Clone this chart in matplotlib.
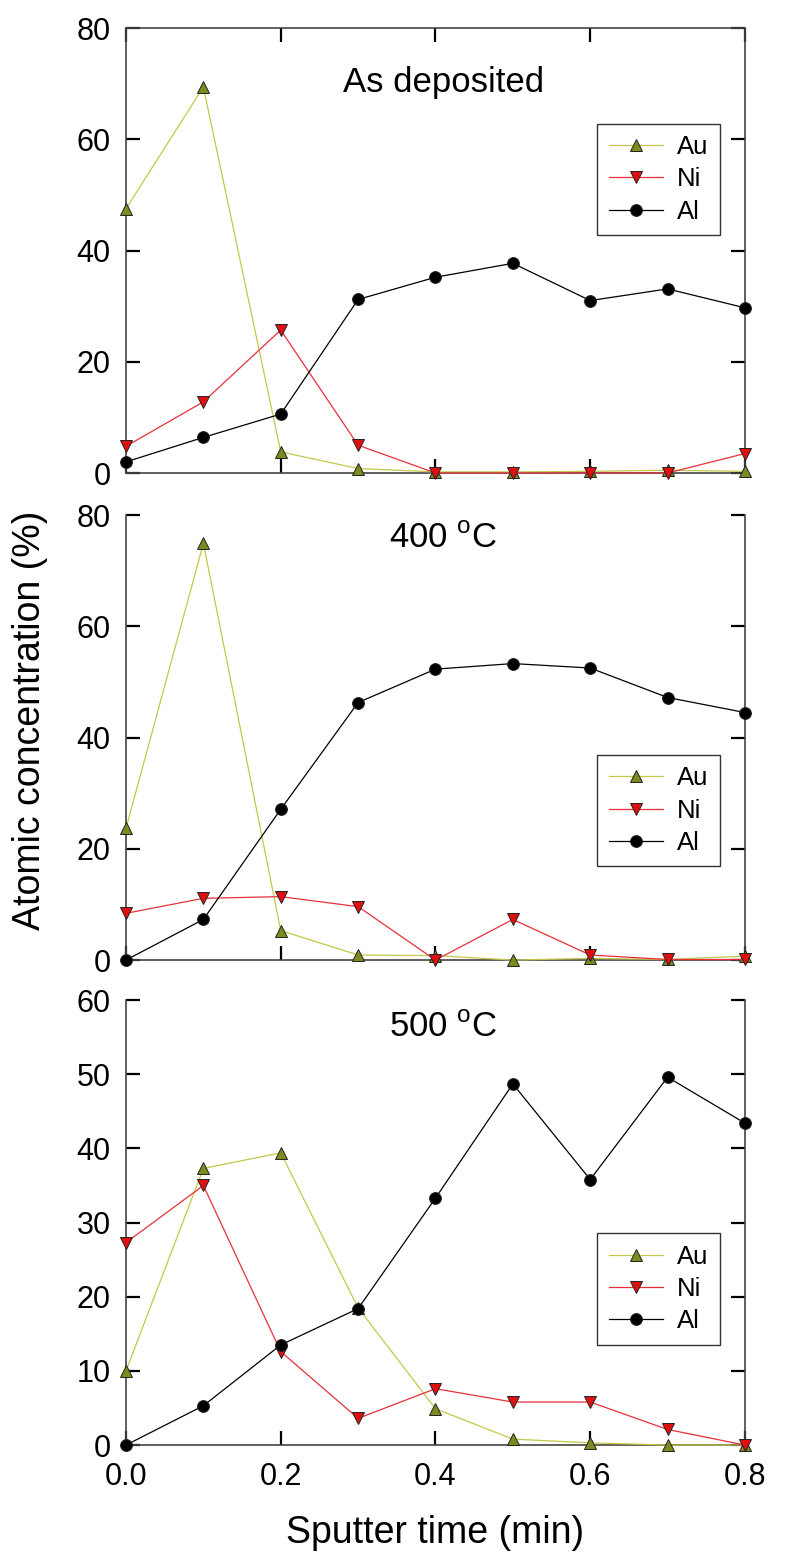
import matplotlib
matplotlib.use("Agg")
from matplotlib import pyplot as plt

plt.rcParams["font.family"] = ["Liberation Sans", "DejaVu Sans"]
plt.rcParams["mathtext.fontset"] = "custom"
plt.rcParams["mathtext.rm"] = "Liberation Sans"

# sputter time (min)
time = [0.0, 0.1, 0.2, 0.3, 0.4, 0.5, 0.6, 0.7, 0.8]

# as deposited
au_dep = [47.5, 69.4, 3.8, 0.8, 0.2, 0.2, 0.3, 0.5, 0.3]
ni_dep = [4.8, 12.8, 25.7, 5.0, 0.0, 0.0, 0.0, 0.0, 3.5]
al_dep = [2.0, 6.4, 10.6, 31.2, 35.2, 37.7, 31.0, 33.1, 29.7]

# 400 C
au_400 = [23.7, 74.9, 5.3, 0.9, 0.8, 0.0, 0.3, 0.1, 0.7]
ni_400 = [8.4, 11.1, 11.4, 9.6, 0.0, 7.3, 0.9, 0.1, 0.1]
al_400 = [0.0, 7.3, 27.1, 46.3, 52.3, 53.3, 52.5, 47.2, 44.5]

# 500 C
au_500 = [10.0, 37.3, 39.4, 18.5, 4.9, 0.8, 0.3, 0.0, 0.0]
ni_500 = [27.3, 35.0, 12.6, 3.6, 7.6, 5.8, 5.8, 2.1, 0.0]
al_500 = [0.0, 5.3, 13.5, 18.4, 33.3, 48.7, 35.8, 49.6, 43.4]

PANELS = [
    ("As deposited", au_dep, ni_dep, al_dep, 80, 20, 0.785),
    ("400 $^{\\rm o}$C", au_400, ni_400, al_400, 80, 20, 0.461),
    ("500 $^{\\rm o}$C", au_500, ni_500, al_500, 60, 10, 0.476),
]
BOTTOMS = [0.6962, 0.3834, 0.0719]
TITLE_Y = [0.877, 0.948, 0.939]


def plot_panel(ax, title, au, ni, al, ymax, ystep, legend_top, title_y):
    """
    draw the three element profiles of one anneal state
    """
    kw = dict(lw=0.9, markersize=8.5, markeredgewidth=0.7, markeredgecolor="#222222", clip_on=False, zorder=3)
    ax.plot(time, au, color="#c4c84a", marker="^", markerfacecolor="#7d8a1e", label="Au", **kw)
    ax.plot(time, ni, color="#e8303a", marker="v", markerfacecolor="#e01010", label="Ni", **kw)
    ax.plot(time, al, color="black", marker="o", markerfacecolor="black", label="Al", **kw)

    ax.set_xlim(0, 0.8)
    ax.set_ylim(0, ymax)
    ax.set_xticks([0.0, 0.2, 0.4, 0.6, 0.8])
    ax.set_yticks(range(0, ymax + 1, ystep))
    ax.tick_params(axis="both", direction="in", length=10, width=1.6, labelsize=22, color="black")
    ax.tick_params(axis="y", right=True, pad=11)
    ax.tick_params(axis="x", pad=12)
    for side in ["left", "right", "bottom", "top"]:
        ax.spines[side].set_color("#444444")
        ax.spines[side].set_linewidth(1.2)

    ax.text(0.513, title_y, title, transform=ax.transAxes, ha="center", va="center", fontsize=25)
    leg = ax.legend(loc="upper left", bbox_to_anchor=(0.761, legend_top), fontsize=18.5, frameon=True,
                    fancybox=False, edgecolor="black", handlelength=2.1, labelspacing=0.32,
                    borderpad=0.45, handletextpad=0.55, numpoints=1, borderaxespad=0)
    leg.get_frame().set_linewidth(1.0)


def main():
    fig = plt.figure(figsize=(7.85, 15.57), dpi=100)
    axes = []
    for i, (title, au, ni, al, ymax, ystep, legend_top) in enumerate(PANELS):
        ax = fig.add_axes([0.1605, BOTTOMS[i], 0.7885, 0.2858])
        plot_panel(ax, title, au, ni, al, ymax, ystep, legend_top, TITLE_Y[i])
        axes.append(ax)

    # top panel is boxed with inward top ticks, the others have no top spine
    axes[0].tick_params(axis="x", top=True)
    for ax in axes[1:]:
        ax.spines["top"].set_visible(False)
    for ax in axes[:2]:
        ax.tick_params(axis="x", labelbottom=False)

    fig.text(0.038, 1 - 720 / 1557, "Atomic concentration (%)", rotation=90, ha="center", va="center", fontsize=27)
    fig.text(0.554, 1 - 1533 / 1557, "Sputter time (min)", ha="center", va="center", fontsize=27)
    fig.savefig("out.png", dpi=100)


if __name__ == "__main__":
    main()
